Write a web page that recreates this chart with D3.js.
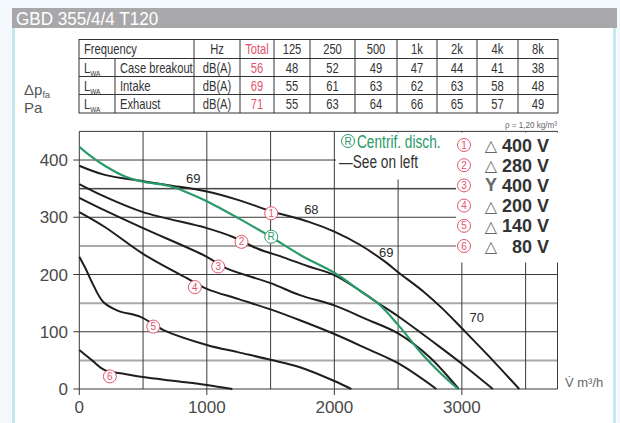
<!DOCTYPE html>
<html><head><meta charset="utf-8">
<script src="https://cdn.jsdelivr.net/npm/d3@7"></script>
<style>
html,body{margin:0;padding:0;background:#f3f9fc;}
svg{display:block;}
</style></head>
<body>
<svg id="c" width="620" height="423"></svg>
<script>
// ---------- data ----------
const title = "GBD 355/4/4 T120";
const freqLabels = ["125","250","500","1k","2k","4k","8k"];
const rowNames = ["Case breakout","Intake","Exhaust"];
const totals = [56, 69, 71];
const caseBreakout = [48, 52, 49, 47, 44, 41, 38];
const intake = [55, 61, 63, 62, 63, 58, 48];
const exhaust = [55, 63, 64, 66, 65, 57, 49];
const xTicks = [0, 1000, 2000, 3000];
const yTicks = [0, 100, 200, 300, 400];
// curves: [airflow m3/h, pressure Pa]
const curve1 = [[0,390],[200,374],[500,363],[700,356],[1000,345],[1250,330],[1500,311],[1800,292],[2000,275],[2200,252],[2400,222],[2500,204],[2700,170],[2850,140],[3000,106],[3200,60],[3450,0]];
const curve2 = [[0,358],[200,336],[500,309],[1000,281],[1200,266],[1400,245],[1600,230],[1800,214],[2000,199],[2200,172],[2330,152],[2500,127],[2824,74],[3000,44],[3243,0]];
const curve3 = [[0,334],[200,312],[500,281],[1000,231],[1150,211],[1500,185],[1730,164],[2000,146],[2250,122],[2500,97],[2750,55],[2975,0]];
const curve4 = [[0,309],[200,283],[500,236],[840,194],[1000,175],[1250,157],[1500,139],[1730,120],[2000,96],[2250,71],[2500,45],[2800,0]];
const curve5 = [[0,231],[50,210],[100,186],[188,152],[300,137],[480,126],[660,103],[1000,77],[1250,64],[1500,51],[1730,38],[2000,14],[2133,0]];
const curve6 = [[0,68],[100,50],[200,33],[340,27],[500,21],[750,14],[1000,7],[1200,0]];
const curveR = [[0,423],[100,405],[200,390],[350,372],[500,362],[700,355],[850,343],[1000,328],[1250,298],[1500,266],[1750,232],[2000,203],[2200,172],[2350,148],[2500,112],[2700,58],[2850,24],[2970,0]];
const blackCurves = [curve1, curve2, curve3, curve4, curve5, curve6];
const curveMarks = [[1505,307],[1272,257],[1089,214],[906,178],[580,109],[240,22]];
const markR = [1505,266];
const soundLabels = [["69",893,369],["68",1820,314],["69",2407,240],["70",3117,126]];
const legendSym = ["△","△","Y","△","△","△"];
const legendVolt = ["400 V","280 V","400 V","200 V","140 V","80 V"];

// ---------- drawing ----------
const svg = d3.select("#c");
const RED = "#e2546c", GREEN = "#2a9a68", DARK = "#2a2a2a", GRAY = "#4a4a4a";
const sans = "'Liberation Sans',Arial,sans-serif";

// condensed text helper
function ctext(parent, x0, y0, sx, txt){
  return parent.append("text").attr("transform",`translate(${x0},${y0}) scale(${sx},1)`).text(txt);
}

// panel
svg.append("rect").attr("x",12).attr("y",8).attr("width",605).attr("height",415).attr("fill","#ffffff");
svg.append("rect").attr("x",12).attr("y",28).attr("width",3).attr("height",395).attr("fill","#c4e8ef");
svg.append("rect").attr("x",613).attr("y",28).attr("width",3).attr("height",395).attr("fill","#c4e8ef");
svg.append("rect").attr("x",12).attr("y",8).attr("width",605).attr("height",20).attr("fill","#a8a8aa");
ctext(svg,16,24.5,0.95,title).attr("fill","#fff").attr("font-family",sans).attr("font-size",18);

// table
const colX = [79,115,194,240,274,310,355,397,437,477,518,558];
const rowY = [39.5,58.5,76.5,94.5,113];
const SX = 0.8;
const tg = svg.append("g").attr("font-family",sans).attr("font-size",14).attr("fill","#333");
tg.append("rect").attr("x",colX[0]).attr("y",rowY[0]).attr("width",colX[11]-colX[0]).attr("height",rowY[4]-rowY[0])
  .attr("fill","none").attr("stroke","#333").attr("stroke-width",1);
rowY.slice(1,4).forEach(y=>tg.append("line").attr("x1",colX[0]).attr("x2",colX[11]).attr("y1",y).attr("y2",y).attr("stroke","#333"));
colX.slice(2,11).forEach(x=>tg.append("line").attr("x1",x).attr("x2",x).attr("y1",rowY[0]).attr("y2",rowY[4]).attr("stroke","#333"));
tg.append("line").attr("x1",colX[1]).attr("x2",colX[1]).attr("y1",rowY[1]).attr("y2",rowY[4]).attr("stroke","#333");
function cellText(txt, c0, c1, r, color, anchor){
  const yy = (rowY[r]+rowY[r+1])/2+5;
  let t;
  if(anchor==="start"){ t = ctext(tg, colX[c0]+5, yy, SX, txt).attr("text-anchor","start"); }
  else { t = ctext(tg, (colX[c0]+colX[c1])/2, yy, SX, txt).attr("text-anchor","middle"); }
  t.attr("fill",color||"#333");
  return t;
}
cellText("Frequency",0,2,0,null,"start");
cellText("Hz",2,3,0);
cellText("Total",3,4,0,RED);
freqLabels.forEach((f,i)=>cellText(f,4+i,5+i,0));
const rows = [caseBreakout, intake, exhaust];
rows.forEach((vals,r)=>{
  const t = cellText("L",0,1,r+1,null,"start");
  t.append("tspan").attr("font-size",8).attr("dy",3).text("WA");
  cellText(rowNames[r],1,2,r+1,null,"start");
  cellText("dB(A)",2,3,r+1);
  cellText(String(totals[r]),3,4,r+1,RED);
  vals.forEach((v,i)=>cellText(String(v),4+i,5+i,r+1));
});
ctext(svg,557,128,0.9,"ρ = 1,20 kg/m³").attr("text-anchor","end").attr("font-family",sans)
  .attr("font-size",9).attr("fill","#666");

// axis label
const al = svg.append("text").attr("x",24).attr("y",95).attr("font-family",sans).attr("font-size",15).attr("fill","#555");
al.append("tspan").text("Δp");
al.append("tspan").attr("font-size",9).attr("dy",3).text("fa");
svg.append("text").attr("x",24).attr("y",113).attr("font-family",sans).attr("font-size",15).attr("fill","#555").text("Pa");

// scales
const x = d3.scaleLinear().domain([0,3750]).range([79.3,557.5]);
const y = d3.scaleLinear().domain([0,450]).range([389,131.4]);

// grid
const g = svg.append("g");
const minorY = d3.range(50,450,100);
g.selectAll(".gm").data(minorY).join("line").attr("x1",x(0)).attr("x2",x(3750))
  .attr("y1",d=>y(d)).attr("y2",d=>y(d)).attr("stroke","#a9a9a9").attr("stroke-width",2);
g.selectAll(".gM").data([0,100,200,300,350,400,450]).join("line").attr("x1",d=>(d%100===0&&d<=400)?x(0)-6:x(0)).attr("x2",x(3750))
  .attr("y1",d=>y(d)).attr("y2",d=>y(d)).attr("stroke","#3a3a3a").attr("stroke-width",1);
g.selectAll(".gv").data(d3.range(0,3751,500).concat([3750])).join("line")
  .attr("x1",d=>x(d)).attr("x2",d=>x(d)).attr("y1",y(450)).attr("y2",d=>(d%1000===0)?y(0)+6:y(0))
  .attr("stroke","#3a3a3a").attr("stroke-width",1);

// curves
const line = d3.line().x(d=>x(d[0])).y(d=>y(d[1])).curve(d3.curveCatmullRom.alpha(0.5));
svg.append("g").selectAll("path").data(blackCurves).join("path").attr("d",line)
  .attr("fill","none").attr("stroke","#1e1e1e").attr("stroke-width",2);
svg.append("path").attr("d",line(curveR)).attr("fill","none").attr("stroke",GREEN).attr("stroke-width",2.2);

// legend boxes (cover grid)
svg.append("rect").attr("x",336).attr("y",132.5).attr("width",121).attr("height",47).attr("fill","#fff");
svg.append("rect").attr("x",456).attr("y",132.5).attr("width",102).attr("height",130).attr("fill","#fff");

// tick labels
svg.append("g").selectAll("text").data(yTicks).join("text").attr("x",68).attr("y",d=>y(d)+6)
  .attr("text-anchor","end").attr("font-family",sans).attr("font-size",17).attr("fill",GRAY).text(d=>d);
svg.append("g").selectAll("text").data(xTicks).join("text").attr("x",d=>x(d)).attr("y",413)
  .attr("text-anchor","middle").attr("font-family",sans).attr("font-size",17).attr("fill",GRAY).text(d=>d);
svg.append("text").attr("x",565).attr("y",387).attr("font-family",sans).attr("font-size",13).attr("fill","#666").text("V\u0307 m³/h");

// sound level labels
svg.append("g").selectAll("text").data(soundLabels).join("text").attr("x",d=>x(d[1])).attr("y",d=>y(d[2])+5)
  .attr("text-anchor","middle").attr("font-family",sans).attr("font-size",13).attr("fill",DARK).text(d=>d[0]);

// circled markers
function circ(cx, cy, label, color){
  svg.append("circle").attr("cx",cx).attr("cy",cy).attr("r",6.5).attr("fill","#fff").attr("stroke",color).attr("stroke-width",1);
  svg.append("text").attr("x",cx).attr("y",cy+3.5).attr("text-anchor","middle").attr("font-family",sans)
    .attr("font-size",10).attr("fill",color).text(label);
}
curveMarks.forEach((m,i)=>circ(x(m[0]),y(m[1]),String(i+1),RED));
circ(x(markR[0]),y(markR[1]),"R",GREEN);

// legend
circ(348,141,"R",GREEN);
ctext(svg,357,147.5,0.72,"Centrif. disch.").attr("font-family",sans).attr("font-size",19).attr("fill",GREEN);
ctext(svg,339,167.5,0.72,"—See on left").attr("font-family",sans).attr("font-size",19).attr("fill","#333");
legendVolt.forEach((v,i)=>{
  const cy = 145 + i*20.2;
  circ(464, cy, String(i+1), RED);
  svg.append("text").attr("x",491).attr("y",cy+6).attr("text-anchor","middle").attr("font-family",legendSym[i]==="Y"?sans:"'DejaVu Sans',sans-serif")
    .attr("font-size",legendSym[i]==="Y"?18:16).attr("font-weight",legendSym[i]==="Y"?"bold":"normal").attr("fill","#666").text(legendSym[i]);
  svg.append("text").attr("x",549).attr("y",cy+6.5).attr("text-anchor","end").attr("font-family",sans)
    .attr("font-size",18).attr("font-weight","bold").attr("fill","#333").text(v);
});
</script>
</body></html>
